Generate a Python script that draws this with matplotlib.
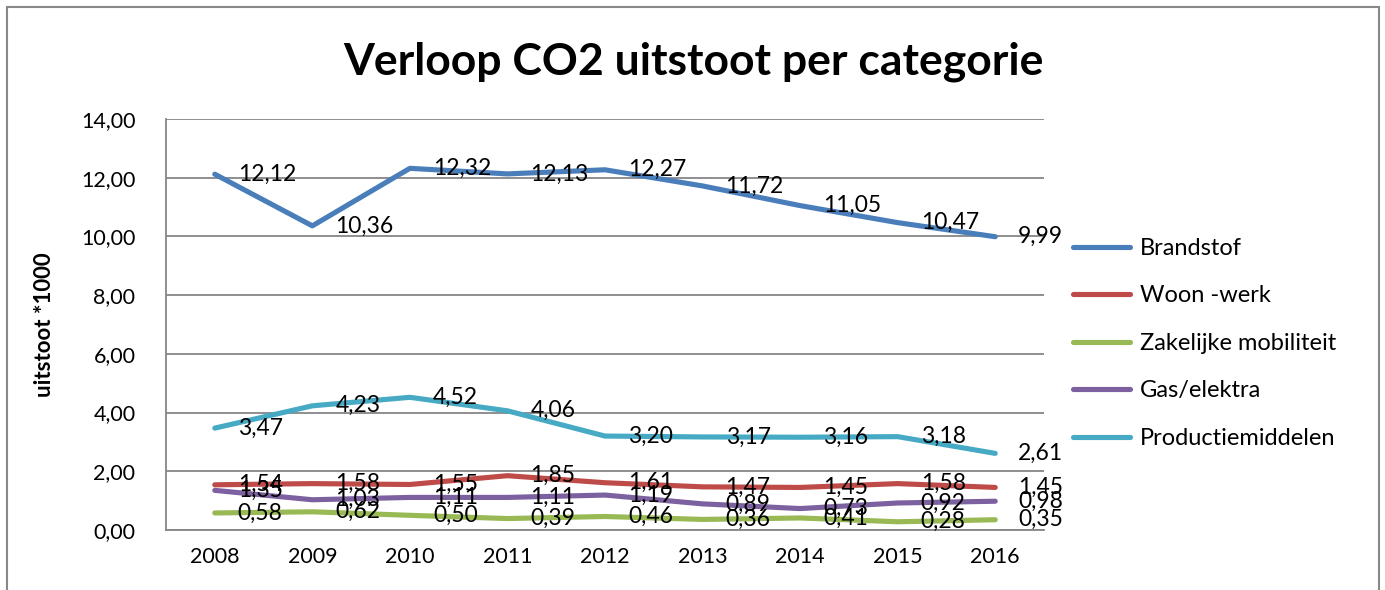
import matplotlib
matplotlib.use("Agg")
import matplotlib.pyplot as plt
from matplotlib.patches import Rectangle

years = ["2008", "2009", "2010", "2011", "2012", "2013", "2014", "2015", "2016"]
series_names = ["Brandstof", "Woon -werk", "Zakelijke mobiliteit", "Gas/elektra", "Productiemiddelen"]
brandstof = [12.12, 10.36, 12.32, 12.13, 12.27, 11.72, 11.05, 10.47, 9.99]
woon_werk = [1.54, 1.58, 1.55, 1.85, 1.61, 1.47, 1.45, 1.58, 1.45]
zakelijk = [0.58, 0.62, 0.50, 0.39, 0.46, 0.36, 0.41, 0.28, 0.35]
gas_elektra = [1.35, 1.03, 1.11, 1.11, 1.19, 0.89, 0.73, 0.92, 0.98]
productie = [3.47, 4.23, 4.52, 4.06, 3.20, 3.17, 3.16, 3.18, 2.61]
y_ticks = [0, 2, 4, 6, 8, 10, 12, 14]
colors = ["#4A7EBB", "#BE4B48", "#98B954", "#7D60A0", "#46AAC5"]

plt.rcParams['font.family'] = ['Lato', 'DejaVu Sans']

W, H = 1385, 590
fig = plt.figure(figsize=(W / 100, H / 100), dpi=100)

# outer chart border
fig.patches.append(Rectangle((7 / W, -0.05), (1379 - 7) / W, (H - 7) / H + 0.05,
                             transform=fig.transFigure, fill=False,
                             edgecolor="#888888", linewidth=1.5))

left, right, top, bottom = 166, 1044, 119, 530
ax = fig.add_axes([left / W, 1 - bottom / H, (right - left) / W, (bottom - top) / H])

data = [brandstof, woon_werk, zakelijk, gas_elektra, productie]
x = list(range(len(years)))
for name, vals, c in zip(series_names, data, colors):
    ax.plot(x, vals, color=c, linewidth=3.7, label=name, solid_capstyle="round")
    for xi, v in zip(x, vals):
        ax.annotate(f"{v:.2f}".replace(".", ","), (xi, v), xytext=(23, 0),
                    textcoords="offset pixels", ha="left", va="center",
                    fontsize=16.5, color="black")

ax.set_xlim(-0.5, len(years) - 0.5)
ax.set_ylim(0, 14)
ax.set_yticks(y_ticks)
ax.set_yticklabels([f"{t:.2f}".replace(".", ",") for t in y_ticks], fontsize=15.5)
ax.set_xticks(x)
ax.set_xticklabels(years, fontsize=15.5)
ax.tick_params(axis="both", length=0, pad=12)
ax.tick_params(axis="y", pad=22)
ax.grid(axis="y", color="#868686", linewidth=1.3)
ax.set_axisbelow(True)
for s in ["top", "right"]:
    ax.spines[s].set_visible(False)
ax.spines["left"].set_color("#868686")
ax.spines["bottom"].set_color("#868686")
ax.spines["left"].set_linewidth(1.3)
ax.spines["bottom"].set_linewidth(1.3)

fig.text(693 / W, 1 - 62 / H, "Verloop CO2 uitstoot per categorie", ha="center",
         va="center", fontsize=32, fontweight="bold")
fig.text(45 / W, 1 - 325 / H, "uitstoot *1000", rotation=90, ha="center", va="center",
         fontsize=16, fontweight="bold")

handles, labels = ax.get_legend_handles_labels()
leg = fig.legend(handles, labels, loc="upper left", bbox_to_anchor=(1073 / W, 1 - 238 / H),
                 frameon=False, fontsize=17, handlelength=2.4, handletextpad=0.42,
                 labelspacing=1.12, borderaxespad=0, borderpad=0)

fig.savefig("out.png", dpi=100)
